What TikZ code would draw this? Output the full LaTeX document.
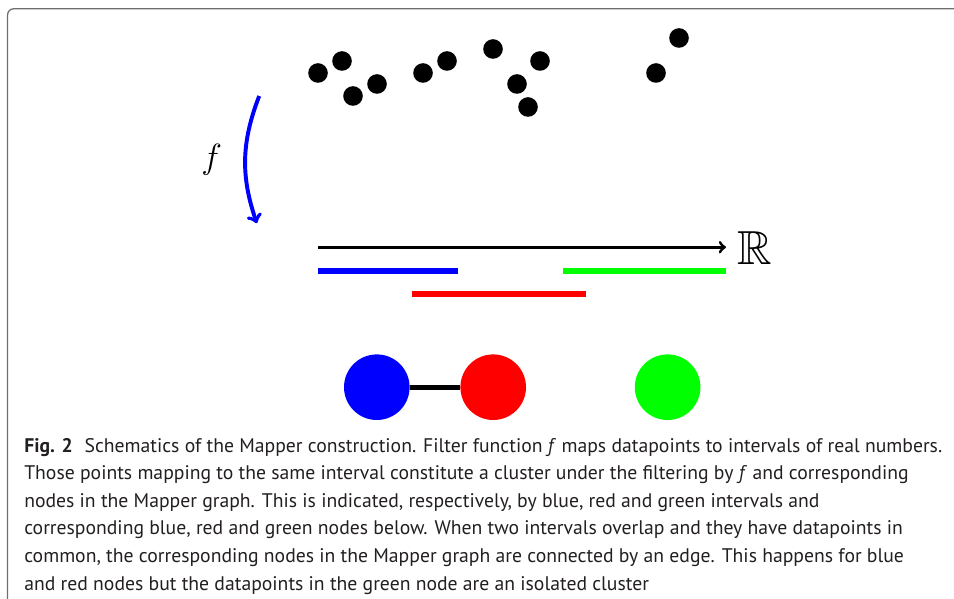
\documentclass[tikz,border=0pt]{standalone}
\usepackage{amssymb}
\usepackage{fontspec}
\newfontfamily\capfont{PT Sans}
\definecolor{framegray}{RGB}{110,110,110}
\definecolor{captxt}{RGB}{35,31,32}
\tikzset{
    datapt/.style={circle,fill=black,minimum size=0.49cm,inner sep=0pt},
    mnode/.style={circle,minimum size=1.64cm,inner sep=0pt},
    interval/.style={line width=4.3pt},
    captext/.style={anchor=base west,inner sep=0pt,text=captxt,font=\capfont\fontsize{14}{19}\selectfont}
}
\begin{document}
\begin{tikzpicture}[>=to]
    \useasboundingbox (0,0) rectangle (23.85,14.95);
    % frame of the figure box
    \draw[framegray,line width=0.9pt,rounded corners=0.15cm] (0.19,-0.2) -- (0.19,14.73) -- (24.2,14.73);
    % point cloud
    \foreach \x/\y [count=\i] in {7.95/13.125, 8.55/13.425, 8.825/12.55, 9.425/12.85, 10.575/13.125, 11.175/13.425,
                                 12.325/13.725, 12.925/12.85, 13.5/13.425, 13.2/12.275, 16.975/14.0, 16.4/13.125} {
        \node[datapt] (p\i) at (\x,\y) {};
    }
    % filter function
    \coordinate (ftop) at (6.48,12.55);
    \coordinate (fbot) at (6.42,9.37);
    \draw[->,blue,line width=2.8pt] (ftop) to[bend right=20] (fbot);
    \node[inner sep=0pt,font=\fontsize{35}{42}\selectfont] (flab) at (5.29,10.95) {$f$};
    % real line and intervals
    \coordinate (axl) at (7.95,8.77);
    \coordinate (axr) at (18.15,8.77);
    \node[inner sep=0pt,font=\fontsize{34}{40}\selectfont] (reals) at (18.875,8.74) {$\mathbb{R}$};
    \draw[->,line width=2.1pt] (axl) -- (axr);
    \draw[interval,blue] (7.95,8.18) -- (11.45,8.18);
    \draw[interval,green] (14.075,8.18) -- (18.15,8.18);
    \draw[interval,red] (10.3,7.6) -- (14.65,7.6);
    % mapper graph
    \node[mnode,fill=blue] (nblue) at (9.42,5.27) {};
    \node[mnode,fill=red] (nred) at (12.33,5.27) {};
    \node[mnode,fill=green] (ngreen) at (16.69,5.27) {};
    \draw[line width=3.6pt] (nblue) -- (nred);
    % caption
    \foreach \txt [count=\i] in {
        {\textbf{Fig. 2}\hspace{0.6em}Schematics of the Mapper construction. Filter function \textit{f} maps datapoints to intervals of real numbers.},
        {Those points mapping to the same interval constitute a cluster under the filtering by \textit{f} and corresponding},
        {nodes in the Mapper graph. This is indicated, respectively, by blue, red and green intervals and},
        {corresponding blue, red and green nodes below. When two intervals overlap and they have datapoints in},
        {common, the corresponding nodes in the Mapper graph are connected by an edge. This happens for blue},
        {and red nodes but the datapoints in the green node are an isolated cluster}} {
        \node[captext] (cap\i) at ({0.6},{3.65-0.69*(\i-1)}) {\txt};
    }
\end{tikzpicture}
\end{document}
